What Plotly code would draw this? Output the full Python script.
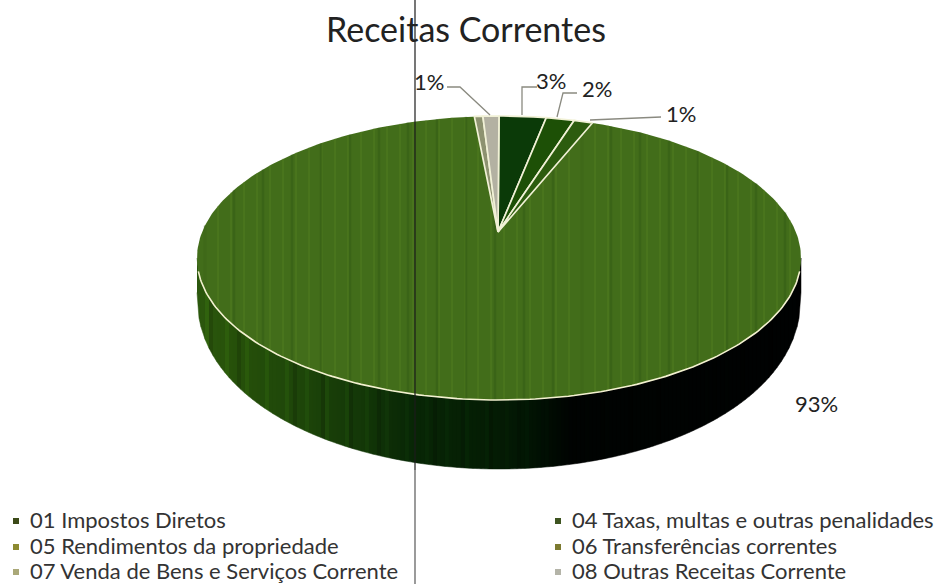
import numpy as np
import plotly.graph_objects as go

TITLE = "Receitas Correntes"
categories = ["01 Impostos Diretos", "04 Taxas, multas e outras penalidades",
              "05 Rendimentos da propriedade", "06 Transferências correntes",
              "07 Venda de Bens e Serviços Corrente", "08 Outras Receitas Corrente"]
values = [2.5, 1.5, 1.0, 93.65, 0.45, 0.85]
value_labels = ["3%", "2%", "1%", "93%", "", "1%"]
colors = ["#0b3a08", "#1d5006", "#2c5c0e", "#426d1a", "#8d9270", "#b3b1a2"]
legend_colors = ["#3c4a18", "#3e5420", "#8c8a30", "#7c7a30", "#aaa878", "#b4b4a8"]

W, H = 944, 584
CX, CY, RX, RY = 499, 258, 302, 142
APEX = (498, 232)
DEPTH = 69
FONT = "Lato"

fig = go.Figure()


def rim(theta):
    return CX + RX * np.sin(theta), CY - RY * np.cos(theta)


def poly(xs, ys, fill, line=None, lw=0):
    fig.add_trace(go.Scatter(x=list(xs), y=list(ys), mode="lines", fill="toself", fillcolor=fill,
                             line=dict(color=line or fill, width=lw), hoverinfo="skip", showlegend=False))


# side wall
anchors_x = [197, 240, 300, 360, 415, 470, 520, 570, 800]
anchors_r = [44, 38, 30, 20, 8, 6, 3, 0, 0]
anchors_g = [88, 80, 70, 56, 38, 32, 24, 4, 2]
anchors_b = [14, 10, 10, 8, 6, 5, 4, 2, 2]
edges = np.arange(CX - RX, CX + RX + 1, 4.0)
for i, (a, b) in enumerate(zip(edges[:-1], edges[1:])):
    xs = np.linspace(a, b, 3)
    s = np.sqrt(np.clip(1 - ((xs - CX) / RX) ** 2, 0, 1))
    top = CY + RY * s
    bottom = top + DEPTH * (0.5 + 0.5 * s ** 0.6)
    mid = (a + b) / 2
    k = 1.14 if i % 5 == 2 else (0.86 if i % 7 == 3 else 1.0)
    col = "rgb(%d,%d,%d)" % (min(255, np.interp(mid, anchors_x, anchors_r) * k),
                             min(255, np.interp(mid, anchors_x, anchors_g) * k),
                             min(255, np.interp(mid, anchors_x, anchors_b) * k))
    poly(np.r_[xs, xs[::-1]], np.r_[top, bottom[::-1]], col, lw=0.5)

# full top face, filled with the largest slice's colour
t = np.linspace(0, 2 * np.pi, 361)
poly(*rim(t), colors[3], line="#eeeecb", lw=0)

# scan texture on the top face
for step, colour, width in [(13, "rgba(96,140,40,0.45)", 1.2), (29, "rgba(40,80,15,0.30)", 2.5)]:
    sx, sy = [], []
    for x in np.arange(CX - RX + 8, CX + RX - 4, step):
        u = (x - CX) / RX
        h = RY * np.sqrt(1 - u * u)
        sx += [x, x, None]
        sy += [CY - h, CY + h, None]
    fig.add_trace(go.Scatter(x=sx, y=sy, mode="lines", line=dict(color=colour, width=width),
                             hoverinfo="skip", showlegend=False))

# small slices
fractions = np.array(values) / sum(values)
stops = np.r_[0, np.cumsum(fractions)] * 2 * np.pi
for i, val in enumerate(values):
    if i == 3:
        continue
    arc = np.linspace(stops[i], stops[i + 1], 12)
    ax, ay = rim(arc)
    poly(np.r_[APEX[0], ax, APEX[0]], np.r_[APEX[1], ay, APEX[1]], colors[i], line="#f1f1d6", lw=1.7)

# white rim along the front edge
front = np.linspace(np.pi * 0.53, np.pi * 1.47, 160)
fx, fy = rim(front)
fig.add_trace(go.Scatter(x=fx, y=fy, mode="lines", line=dict(color="#f3f1d0", width=1.6),
                         hoverinfo="skip", showlegend=False))

# leader lines
for lx, ly in [([447, 460, 490], [87, 87, 115]), ([537, 522, 522], [87, 87, 115]),
               ([577, 563, 557], [93, 93, 117]), ([661, 590], [117, 120])]:
    fig.add_trace(go.Scatter(x=lx, y=ly, mode="lines", line=dict(color="#8a8a80", width=1.3),
                             hoverinfo="skip", showlegend=False))

# the scanner's vertical line
fig.add_trace(go.Scatter(x=[415, 415], y=[0, 470], mode="lines", line=dict(color="#1c1c1c", width=1.2),
                         hoverinfo="skip", showlegend=False))
fig.add_trace(go.Scatter(x=[415, 415], y=[470, 584], mode="lines", line=dict(color="#707070", width=1.4),
                         hoverinfo="skip", showlegend=False))

# data labels
label_pos = [(551, 80), (597, 88), (681, 113), (816, 403), None, (429, 81)]
for text, pos in zip(value_labels, label_pos):
    if pos:
        fig.add_annotation(x=pos[0], y=pos[1], text=text, showarrow=False,
                           font=dict(family=FONT, size=22, color="#222"))

# legend
legend_pos = [(16, 519), (558, 519), (16, 545), (558, 545), (16, 570), (558, 570)]
for name, col, (lx, ly) in zip(categories, legend_colors, legend_pos):
    fig.add_trace(go.Scatter(x=[lx], y=[ly + 2], mode="markers", marker=dict(symbol="square", size=6, color=col),
                             hoverinfo="skip", showlegend=False))
    fig.add_annotation(x=lx + 12, y=ly, text=name, showarrow=False, xanchor="left",
                       font=dict(family=FONT, size=22, color="#333"))

fig.add_annotation(x=466, y=28, text=TITLE, showarrow=False, font=dict(family=FONT, size=34, color="#222"))

fig.update_layout(width=W, height=H, margin=dict(l=0, r=0, t=0, b=0), paper_bgcolor="white", plot_bgcolor="white",
                  xaxis=dict(range=[0, W], visible=False, fixedrange=True),
                  yaxis=dict(range=[H, 0], visible=False, fixedrange=True), showlegend=False)
fig.write_html("out.html", config=dict(displayModeBar=False),
               post_script="document.body.style.margin='0';document.documentElement.style.overflow='hidden';")
